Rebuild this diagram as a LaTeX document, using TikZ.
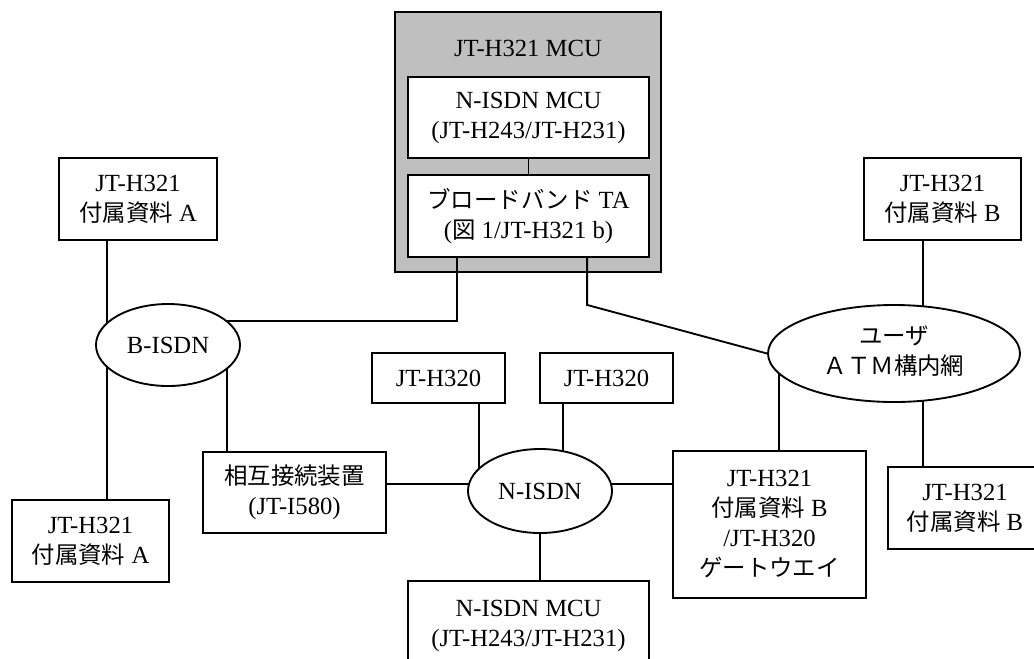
\documentclass[tikz,border=0pt]{standalone}
\usepackage{fontspec}
\setmainfont{Liberation Serif}
\newfontfamily\jp[Scale=0.95]{Noto Sans CJK JP}
\usetikzlibrary{shapes.geometric,calc,backgrounds}

\tikzset{
  sz/.style 2 args={minimum width=#1*0.75pt, minimum height=#2*0.75pt},
  unit/.style={draw, line width=1.4pt, fill=white, inner sep=0pt, align=center,
               font=\fontsize{18.5}{22.5}\selectfont},
  netw/.style={unit, ellipse},
  link/.style={line width=1.4pt},
  group/.style={draw, line width=1.4pt, fill=black!25, inner sep=0pt},
}

\begin{document}
\begin{tikzpicture}[x=0.75pt, y=-0.75pt]
\useasboundingbox (0,0) rectangle (1034,658);
\clip (0,0) rectangle (1034,658);

% MCU internals
\node[unit, sz={241}{81}] (nmcu) at (528.5,117.5) {N-ISDN MCU\\(JT-H243/JT-H231)};
\node[unit, sz={241}{82}] (bta) at (528.5,216) {{\jp ブロードバンド} TA\\({\jp 図} 1/JT-H321 b)};
\node[font=\fontsize{18.5}{22.5}\selectfont, inner sep=0pt] (mcutitle) at (528,48) {JT-H321 MCU};

% terminals and equipment
\node[unit, sz={158}{82}] (ha1) at (138,199) {JT-H321\\{\jp 付属資料} A};
\node[unit, sz={157}{82}] (ha2) at (90.5,541) {JT-H321\\{\jp 付属資料} A};
\node[unit, sz={183}{81}] (iwf) at (294.5,492.5) {{\jp 相互接続装置}\\(JT-I580)};
\node[unit, sz={133}{50}] (h320a) at (438.5,378) {JT-H320};
\node[unit, sz={133}{50}] (h320b) at (606.5,378) {JT-H320};
\node[unit, sz={241}{90}] (nmcu2) at (528.5,626) {N-ISDN MCU\\(JT-H243/JT-H231)};
\node[unit, sz={193}{147}] (gw) at (769.5,524.5) {JT-H321\\{\jp 付属資料} B\\/JT-H320\\{\jp ゲートウエイ}};
\node[unit, sz={157}{82}] (hb1) at (942.5,199) {JT-H321\\{\jp 付属資料} B};
\node[unit, sz={154}{82}] (hb2) at (965,508) {JT-H321\\{\jp 付属資料} B};

% networks
\node[netw, sz={144}{82}] (bisdn) at (168,345) {B-ISDN};
\node[netw, sz={144}{84}] (nisdn) at (540,491) {N-ISDN};
\node[netw, sz={252}{97}] (atm) at (894,353.5)
  {\raisebox{6pt}{\begin{tabular}{@{}c@{}}{\jp ユーザ}\\{\jp ＡＴＭ構内網}\end{tabular}}};

\coordinate (row) at (0,484);

\begin{pgfonlayer}{background}
  % enclosing MCU
  \node[group, sz={266}{260}] (mcu) at (528,142) {};
  % connections
  \draw[link] (nmcu) -- (bta);
  \draw[link] ($(ha1.south west)+(49,0)$) -- ($(ha2.north west)+(96,0)$);
  \draw[link] ($(bta.south west)+(50,0)$) |- ($(bisdn.center)+(0,-24)$);
  \draw[link] ($(iwf.north west)+(25,0)$) |- (bisdn.center);
  \draw[link] (iwf.east |- row) -- (gw.west |- row);
  \draw[link] ($(h320a.south west)+(108,0)$) |- (nisdn.center);
  \draw[link] ($(h320b.south west)+(24,0)$) |- (nisdn.center);
  \draw[link] (nisdn.center) -- (nisdn.center |- nmcu2.north);
  \draw[link] ($(gw.north west)+(107,0)$) |- (atm.center);
  \draw[link] ($(bta.south west)+(180,0)$) -- ++(0,47) -- (atm.west);
  \draw[link] ($(hb1.south west)+(60,0)$) |- (atm.center);
  \draw[link] ($(hb2.north west)+(36,0)$) |- (atm.center);
\end{pgfonlayer}
\end{tikzpicture}
\end{document}
